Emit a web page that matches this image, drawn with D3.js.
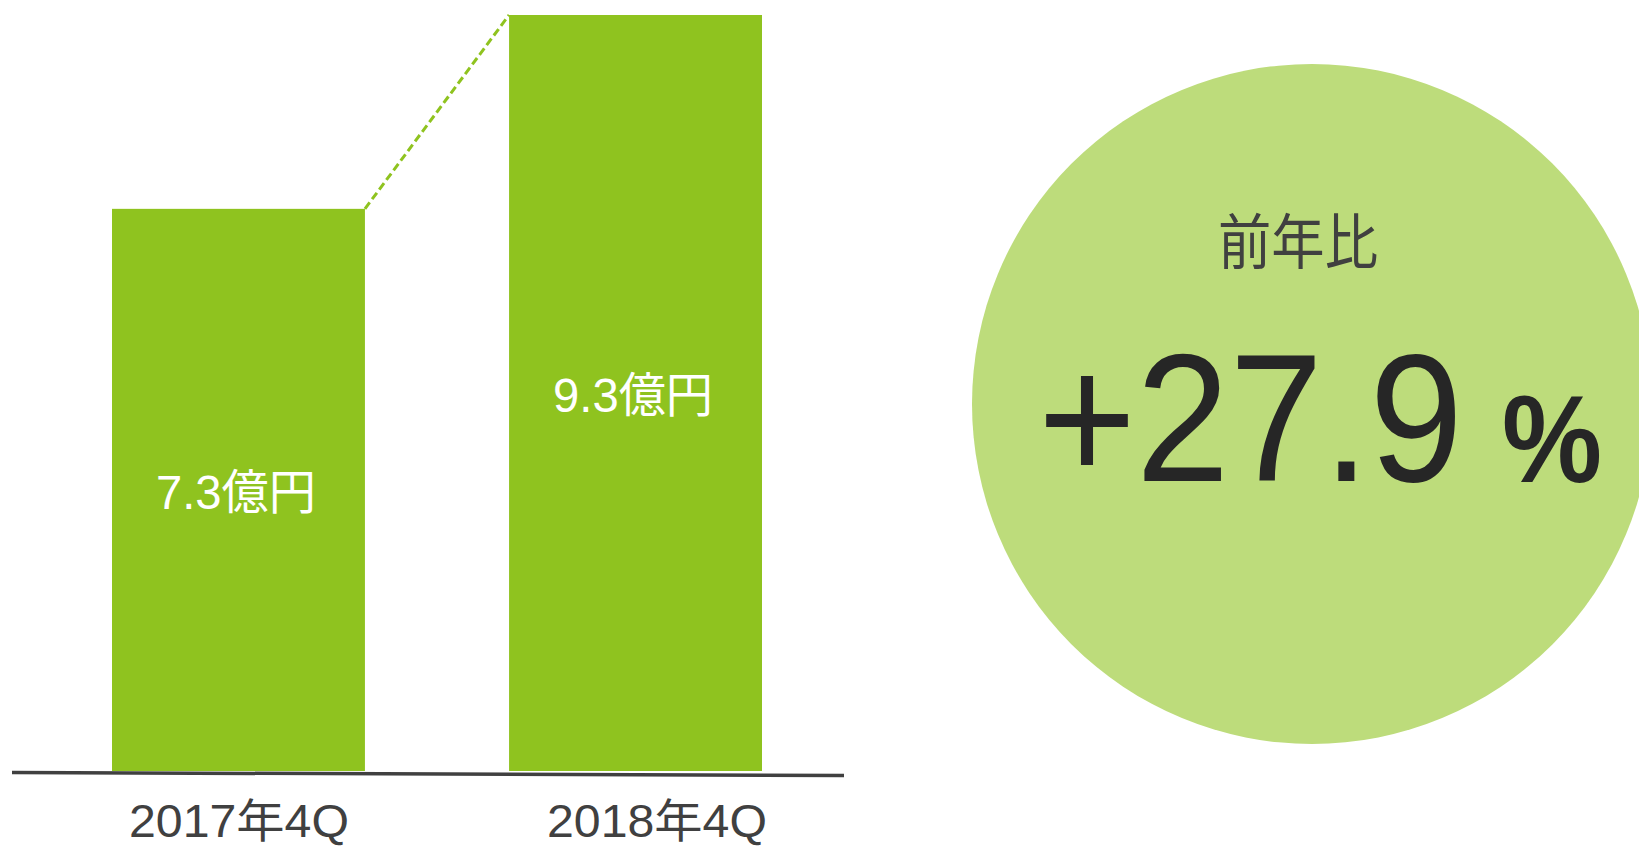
<!DOCTYPE html>
<html><head><meta charset="utf-8">
<script src="https://cdn.jsdelivr.net/npm/d3@7"></script>
<style>html,body{margin:0;padding:0;background:#fff;overflow:hidden}</style>
</head><body>
<script>
const categories = ["2017年4Q", "2018年4Q"];
const values = [7.3, 9.3];
const valueLabels = ["7.3億円", "9.3億円"];
const ratioTitle = "前年比";
const ratioValue = "+27.9";
const ratioUnit = "%";

const W = 1639, H = 846;
const font = "'Liberation Sans','Noto Sans CJK JP',sans-serif";
const cjk = "'Noto Sans CJK JP','Noto Sans',sans-serif";
const svg = d3.select("body").append("svg").attr("width", W).attr("height", H);

const x = d3.scaleBand().domain(categories).range([112, 762]).paddingInner(0.363).paddingOuter(0);
const y = d3.scaleLinear().domain([1.5, 9.3]).range([771, 15]);
const labelX = d3.scalePoint().domain(categories).range([239, 657]);

// circle
svg.append("circle").attr("cx", 1312).attr("cy", 404).attr("r", 340).attr("fill", "#bddc7b");

// bars
svg.selectAll("rect.bar").data(values).join("rect").attr("class", "bar")
  .attr("x", (d, i) => x(categories[i]))
  .attr("y", d => y(d))
  .attr("width", x.bandwidth())
  .attr("height", d => y(1.5) - y(d))
  .attr("fill", "#8fc31f");

// dashed connector
svg.append("line")
  .attr("x1", x(categories[0]) + x.bandwidth()).attr("y1", y(values[0]))
  .attr("x2", x(categories[1])).attr("y2", y(values[1]))
  .attr("stroke", "#8fc31f").attr("stroke-width", 3).attr("stroke-dasharray", "8,4");

// baseline
svg.append("line").attr("x1", 12).attr("y1", 772.5).attr("x2", 844).attr("y2", 775.5)
  .attr("stroke", "#404040").attr("stroke-width", 3.5);

// value labels
svg.selectAll("text.val").data(values).join("text").attr("class", "val")
  .attr("x", (d, i) => x(categories[i]) + x.bandwidth() / 2 - 2.5)
  .attr("y", d => (y(d) + y(1.5)) / 2 + 19)
  .attr("text-anchor", "middle")
  .attr("font-family", font).attr("font-size", 48)
  .attr("fill", "#fff")
  .attr("textLength", 160).attr("lengthAdjust", "spacingAndGlyphs")
  .text((d, i) => valueLabels[i]);

// category labels
svg.selectAll("text.cat").data(categories).join("text").attr("class", "cat")
  .attr("x", d => labelX(d))
  .attr("y", 837)
  .attr("text-anchor", "middle")
  .attr("font-family", font).attr("font-size", 46)
  .attr("fill", "#404040")
  .attr("textLength", 220).attr("lengthAdjust", "spacingAndGlyphs")
  .text(d => d);

// ratio texts
svg.append("text").attr("x", 1298).attr("y", 264).attr("text-anchor", "middle")
  .attr("font-family", cjk).attr("font-size", 60).attr("fill", "#404040")
  .attr("textLength", 160).attr("lengthAdjust", "spacingAndGlyphs")
  .text(ratioTitle);

svg.append("text").attr("x", 1038).attr("y", 481)
  .attr("font-family", font).attr("font-size", 182).attr("fill", "#262626")
  .attr("textLength", 425).attr("lengthAdjust", "spacingAndGlyphs")
  .text(ratioValue);

svg.append("text").attr("x", 1502).attr("y", 482)
  .attr("font-family", font).attr("font-size", 124).attr("font-weight", "bold").attr("fill", "#262626")
  .attr("textLength", 100).attr("lengthAdjust", "spacingAndGlyphs")
  .text(ratioUnit);
</script>
</body></html>
